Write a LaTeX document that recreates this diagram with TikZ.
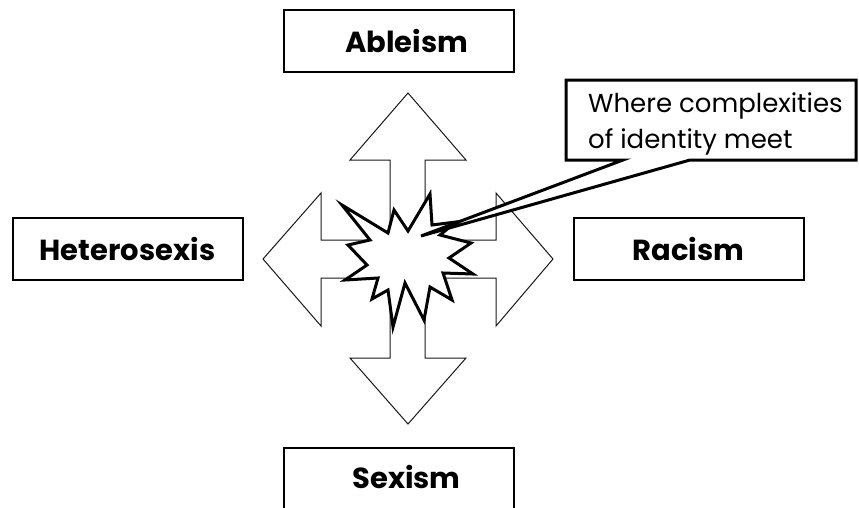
\documentclass[tikz,border=0pt]{standalone}
\usepackage{fontspec}
\setmainfont{Poppins}
\begin{document}
\begin{tikzpicture}[x=1pt,y=-1pt,
  labelbox/.style={draw=black,line width=2pt,fill=white,minimum width=230pt,minimum height=62pt,inner sep=0pt},
  labeltext/.style={inner sep=0pt,font=\fontsize{29}{34}\selectfont\bfseries},
  arrowline/.style={draw=black!90,line width=1pt,fill=white,line join=miter},
  burst/.style={draw=black,line width=3pt,fill=white,line join=miter,miter limit=10},
  callout/.style={draw=black,line width=3pt,fill=white,line join=miter}]
\clip (0,0) rectangle (859,507);
\fill[white] (0,0) rectangle (859,507);
% label boxes
\node[labelbox] (able) at (398.5,41) {};
\node[labeltext] (ableT) at ([xshift=8pt]able.center) {Ableism};
\node[labelbox] (hetero) at (127.5,249) {};
\node[labeltext] (heteroT) at (hetero.center) {Heterosexis};
\node[labelbox] (racism) at (688.5,249) {};
\node[labeltext] (racismT) at (racism.center) {Racism};
\node[labelbox] (sexism) at (398.5,479) {};
\node[labeltext] (sexismT) at ([xshift=8pt,yshift=2pt]sexism.center) {Sexism};
% four-way arrow
\path[arrowline] (408,93) -- (466,160) -- (425,160) -- (425,240) -- (496,240) -- (496,193)
  -- (553,259) -- (496,326) -- (496,278) -- (425,278) -- (425,358) -- (466,358)
  -- (408,424) -- (350,358) -- (390,358) -- (390,278) -- (321,278) -- (321,326)
  -- (263,259) -- (321,193) -- (321,240) -- (390,240) -- (390,160) -- (350,160) -- cycle;
% starburst
\path[burst] (342,205) -- (388,233) -- (394,210) -- (408,231) -- (430,194) -- (432,225)
  -- (456,222) -- (440,235) -- (471,243) -- (449,258) -- (473,274) -- (443,273)
  -- (452,300) -- (430,287) -- (424,320) -- (405,283) -- (393,327) -- (388,290)
  -- (372,299) -- (378,278) -- (345,280) -- (367,265) -- (348,245) -- (370,240) -- cycle;
\coordinate (tip) at (421,236);
% callout
\path[callout] (566,80) -- (856,80) -- (856,160) -- (690,160) -- (tip) -- (623,160) -- (566,160) -- cycle;
\node[anchor=base west,align=left,inner sep=0pt,font=\fontsize{26}{36}\selectfont] (note) at (588,148) {Where complexities\\of identity meet};
\end{tikzpicture}
\end{document}
